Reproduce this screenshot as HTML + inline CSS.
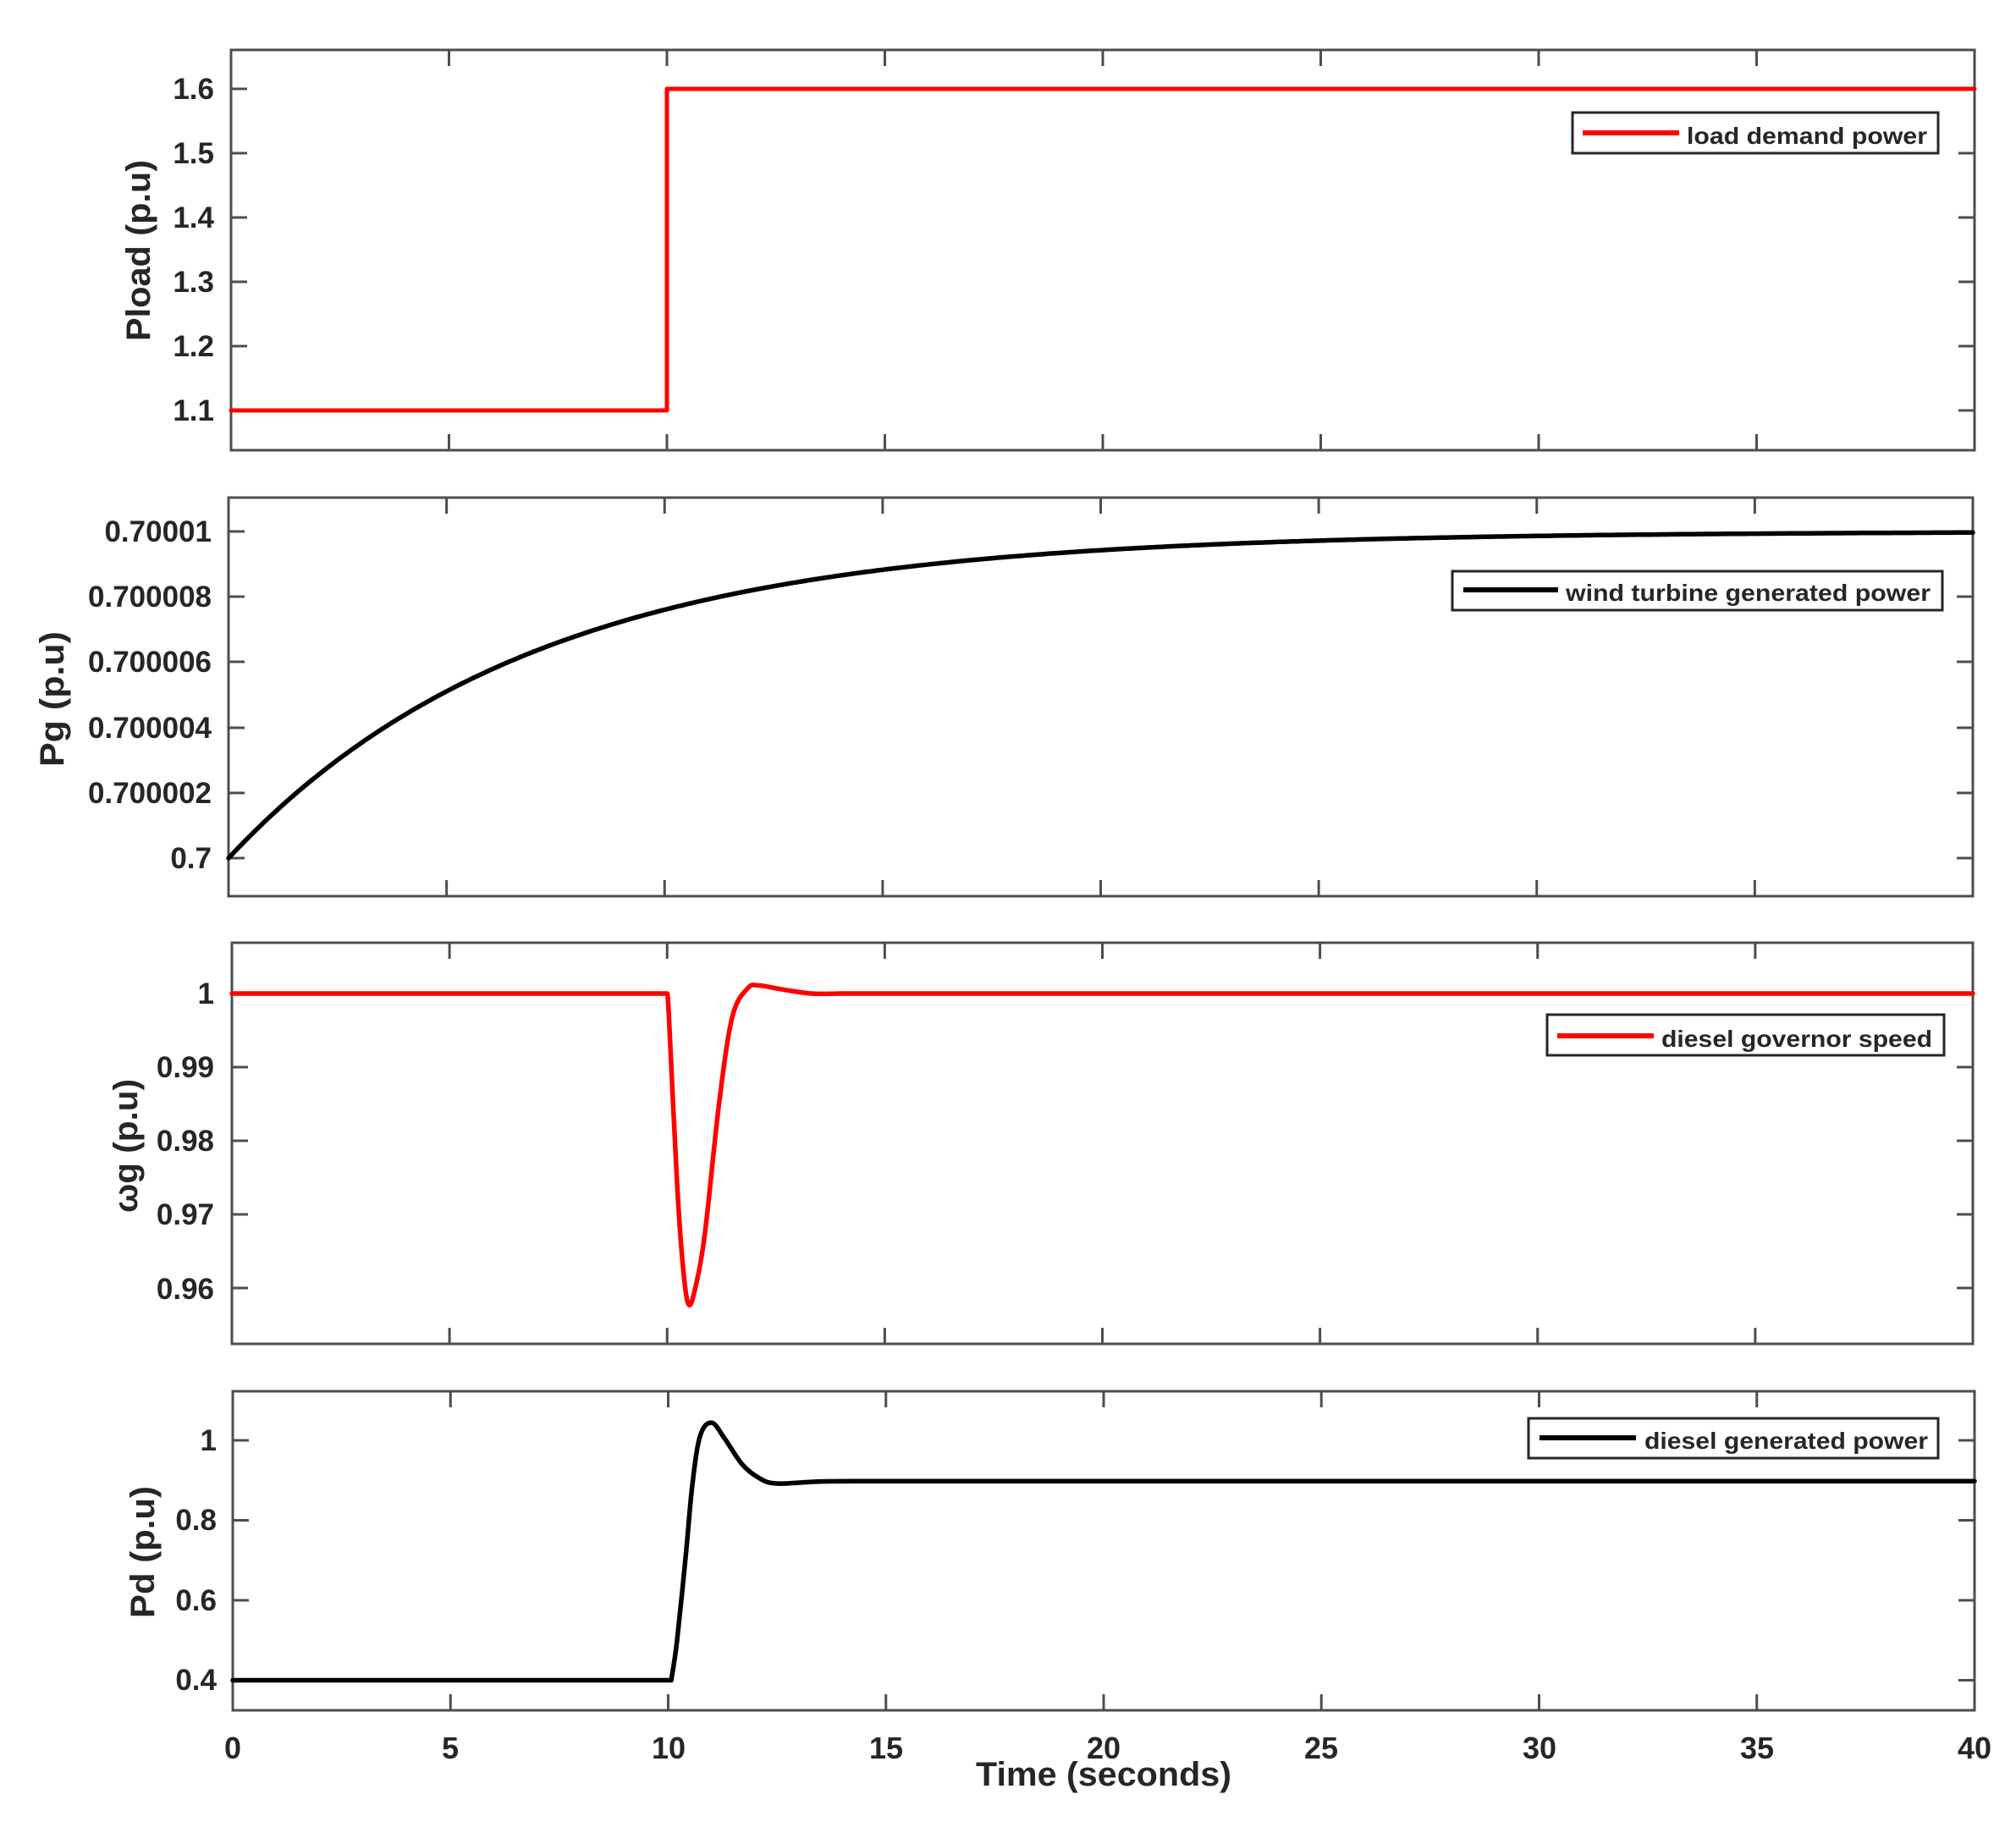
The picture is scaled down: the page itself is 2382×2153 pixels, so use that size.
<!DOCTYPE html>
<html><head><meta charset="utf-8">
<style>
html,body{margin:0;padding:0;background:#fff;}
svg{display:block;}
text{font-family:"Liberation Sans",Arial,sans-serif;font-weight:bold;fill:#262626;}
</style></head>
<body>
<svg id="s" width="2382" height="2153" viewBox="0 0 2382 2153" xmlns="http://www.w3.org/2000/svg">
<rect width="2382" height="2153" fill="#fff"/>
<g id="axes" stroke="#4d4d4d" stroke-width="3" fill="none"></g>
<g id="curves" fill="none" stroke-linejoin="round" stroke-linecap="round"></g>

<g font-size="35" text-anchor="end">
<text x="253" y="117">1.6</text>
<text x="253" y="193">1.5</text>
<text x="253" y="269">1.4</text>
<text x="253" y="345">1.3</text>
<text x="253" y="421">1.2</text>
<text x="253" y="497">1.1</text>

<text x="250" y="640">0.70001</text>
<text x="250" y="717">0.700008</text>
<text x="250" y="794">0.700006</text>
<text x="250" y="872">0.700004</text>
<text x="250" y="949">0.700002</text>
<text x="250" y="1026">0.7</text>

<text x="253" y="1186">1</text>
<text x="253" y="1273">0.99</text>
<text x="253" y="1360">0.98</text>
<text x="253" y="1447">0.97</text>
<text x="253" y="1535">0.96</text>

<text x="256" y="1714">1</text>
<text x="256" y="1808">0.8</text>
<text x="256" y="1903">0.6</text>
<text x="256" y="1997">0.4</text>
</g>

<g font-size="36" text-anchor="middle">
<text x="275" y="2078">0</text>
<text x="532" y="2078">5</text>
<text x="790" y="2078">10</text>
<text x="1047" y="2078">15</text>
<text x="1304" y="2078">20</text>
<text x="1561" y="2078">25</text>
<text x="1819" y="2078">30</text>
<text x="2076" y="2078">35</text>
<text x="2333" y="2078">40</text>
</g>
<text x="1153" y="2110" font-size="40" textLength="302" lengthAdjust="spacingAndGlyphs">Time (seconds)</text>

<g font-size="40" text-anchor="middle">
<text transform="translate(177,296) rotate(-90)" textLength="214" lengthAdjust="spacingAndGlyphs">Pload (p.u)</text>
<text transform="translate(75,826) rotate(-90)" textLength="160" lengthAdjust="spacingAndGlyphs">Pg (p.u)</text>
<text transform="translate(162,1354) rotate(-90)" textLength="158" lengthAdjust="spacingAndGlyphs">ωg (p.u)</text>
<text transform="translate(182,1834) rotate(-90)" textLength="156" lengthAdjust="spacingAndGlyphs">Pd (p.u)</text>
</g>

<g stroke="#262626" stroke-width="3" fill="#fff">
<rect x="1858" y="133" width="432" height="48"/>
<rect x="1716" y="675" width="579" height="46"/>
<rect x="1828" y="1199" width="469" height="48"/>
<rect x="1806" y="1676" width="484" height="47"/>
</g>
<g stroke-width="6">
<line x1="1870" y1="157" x2="1984" y2="157" stroke="#ff0000"/>
<line x1="1729" y1="697" x2="1841" y2="697" stroke="#000"/>
<line x1="1840" y1="1224" x2="1954" y2="1224" stroke="#ff0000"/>
<line x1="1819" y1="1699" x2="1933" y2="1699" stroke="#000"/>
</g>
<g font-size="28">
<text x="1993" y="170" textLength="284" lengthAdjust="spacingAndGlyphs">load demand power</text>
<text x="1850" y="710" textLength="431" lengthAdjust="spacingAndGlyphs">wind turbine generated power</text>
<text x="1963" y="1237" textLength="320" lengthAdjust="spacingAndGlyphs">diesel governor speed</text>
<text x="1943" y="1712" textLength="335" lengthAdjust="spacingAndGlyphs">diesel generated power</text>
</g>
</svg>
<script>
(function(){
var NS="http://www.w3.org/2000/svg";
var ax=document.getElementById("axes"), cv=document.getElementById("curves");
function el(p,tag,a){var e=document.createElementNS(NS,tag);for(var k in a)e.setAttribute(k,a[k]);p.appendChild(e);return e;}
var panels=[
 {l:273,t:59,r:2333,b:532,yt:[105,181,257,333,409,485]},
 {l:270,t:588,r:2331,b:1059,yt:[628,705,782,860,937,1014]},
 {l:274,t:1114,r:2331,b:1588,yt:[1174,1261,1348,1435,1522]},
 {l:275,t:1644,r:2333,b:2021,yt:[1702,1796.5,1891,1985.5]}
];
panels.forEach(function(p){
 el(ax,"rect",{x:p.l,y:p.t,width:p.r-p.l,height:p.b-p.t});
 var d="";
 for(var i=1;i<8;i++){var x=p.l+i*(p.r-p.l)/8;d+="M"+x+" "+p.t+"v19M"+x+" "+p.b+"v-19";}
 p.yt.forEach(function(y){d+="M"+p.l+" "+y+"h19M"+p.r+" "+y+"h-19";});
 el(ax,"path",{d:d});
});
function X(p,t){return p.l+t*(p.r-p.l)/40;}
function cr(pts){
 var d="M"+pts[0][0]+" "+pts[0][1];
 for(var i=0;i<pts.length-1;i++){
  var p0=pts[i-1]||pts[i],p1=pts[i],p2=pts[i+1],p3=pts[i+2]||p2;
  var c1=[p1[0]+(p2[0]-p0[0])/6,p1[1]+(p2[1]-p0[1])/6];
  var c2=[p2[0]-(p3[0]-p1[0])/6,p2[1]-(p3[1]-p1[1])/6];
  d+="C"+c1[0].toFixed(1)+" "+c1[1].toFixed(1)+" "+c2[0].toFixed(1)+" "+c2[1].toFixed(1)+" "+p2[0].toFixed(1)+" "+p2[1].toFixed(1);
 }
 return d;
}
var p=panels[0];
el(cv,"path",{d:"M"+p.l+" 485H"+X(p,10)+"V105H"+p.r,stroke:"#ff0000","stroke-width":5});
p=panels[1];var d="";
for(var i=0;i<=400;i++){var t=i/10;var v=1e-5*(1-Math.exp(-t/7));var y=1014-v/2e-6*77.2;d+=(i?"L":"M")+X(p,t).toFixed(1)+" "+y.toFixed(1);}
el(cv,"path",{d:d,stroke:"#000","stroke-width":5.5});
p=panels[2];
function Y3(v){return 1174+(1-v)/0.01*87;}
var w=[[0,1],[10,1],[10.04,0.997],[10.23,0.974],[10.37,0.9625],[10.5,0.9577],[10.67,0.9606],[10.88,0.968],[11.2,0.9854],[11.5,0.9969],[11.85,1.0007],[12.1,1.0011],[12.6,1.0006],[13.3,1.0],[14,1],[40,1]];
var wp=w.map(function(a){return [X(p,a[0]),Y3(a[1])];});
el(cv,"path",{d:"M"+wp[0][0]+" "+wp[0][1]+"L"+wp[1][0]+" "+wp[1][1]+cr(wp.slice(1,15)).replace(/^M[^C]*/,"")+"L"+wp[15][0]+" "+wp[15][1],stroke:"#ff0000","stroke-width":5.5});
p=panels[3];
function Y4(v){return 1702+(1-v)/0.2*94.5;}
var q=[[0,0.4],[10.07,0.4],[10.2,0.496],[10.4,0.708],[10.55,0.884],[10.73,1.01],[11.0,1.044],[11.3,1.004],[11.7,0.94],[12.1,0.905],[12.5,0.892],[13.45,0.897],[14.5,0.898],[40,0.898]];
var qp=q.map(function(a){return [X(p,a[0]),Y4(a[1])];});
el(cv,"path",{d:"M"+qp[0][0]+" "+qp[0][1]+"L"+qp[1][0]+" "+qp[1][1]+cr(qp.slice(1,13)).replace(/^M[^C]*/,"")+"L"+qp[13][0]+" "+qp[13][1],stroke:"#000","stroke-width":5.5});
})();
</script>
</body></html>
